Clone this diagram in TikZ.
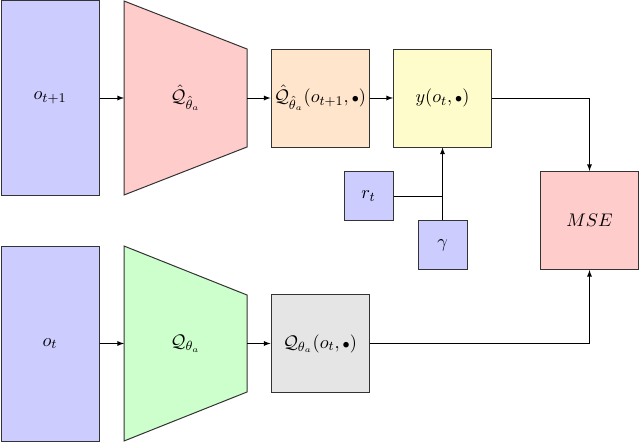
\documentclass[tikz,border=0pt]{standalone}
\usetikzlibrary{arrows.meta}
\newcommand{\sdot}{{\scriptstyle\bullet}}
\begin{document}
\begin{tikzpicture}[x=0.6pt,y=-0.6pt,>=latex,
  every node/.style={font=\fontsize{11}{13}\selectfont},
  block/.style={draw=black!80,semithick,minimum width=58.8pt,minimum height=58.8pt,inner sep=1pt},
  tall/.style={block,minimum height=117pt},
  small/.style={block,minimum width=29.4pt,minimum height=29.4pt},
  net/.style={draw=black!80,semithick}]
\useasboundingbox (0,0) rectangle (640,443);

% the observations
\node[tall,fill=blue!20] (obsnext) at (50,98) {$o_{t+1}$};
\node[tall,fill=blue!20] (obs) at (50,343.5) {$o_t$};

% the target network
\filldraw[net,fill=red!20] (124,1) -- (247,49) -- (247,147) -- (124,195) -- cycle;
\coordinate (tgtin) at (124,98);
\coordinate (tgtout) at (247,98);
\node (tgtnet) at (185.5,98) {$\hat{\mathcal{Q}}_{\hat{\theta}_a}$};

% the online network
\filldraw[net,fill=green!20] (124,246) -- (247,295) -- (247,392) -- (124,441) -- cycle;
\coordinate (netin) at (124,343.5);
\coordinate (netout) at (247,343.5);
\node (net) at (185.5,343.5) {$\mathcal{Q}_{\theta_a}$};

% outputs and target
\node[block,fill=orange!20] (qnext) at (320,98) {$\hat{\mathcal{Q}}_{\hat{\theta}_a}(o_{t+1},\sdot)$};
\node[block,fill=yellow!20] (target) at (442.5,98) {$y(o_t,\sdot)$};
\node[block,fill=gray!20] (qval) at (320,343.5) {$\mathcal{Q}_{\theta_a}(o_t,\sdot)$};
\node[small,fill=blue!20] (reward) at (368.5,196) {$r_t$};
\node[small,fill=blue!20] (gamma) at (442.5,245) {$\gamma$};
\node[block,fill=red!20] (mse) at (589.5,220.5) {$MSE$};

% connections
\draw[->] (obsnext) -- (tgtin);
\draw[->] (tgtout) -- (qnext);
\draw[->] (qnext) -- (target);
\draw[->] (obs) -- (netin);
\draw[->] (netout) -- (qval);
\draw[->] (reward) -| (target);
\draw (gamma) -- (reward -| gamma);
\draw[->] (target) -| (mse);
\draw[->] (qval) -| (mse);
\end{tikzpicture}
\end{document}
